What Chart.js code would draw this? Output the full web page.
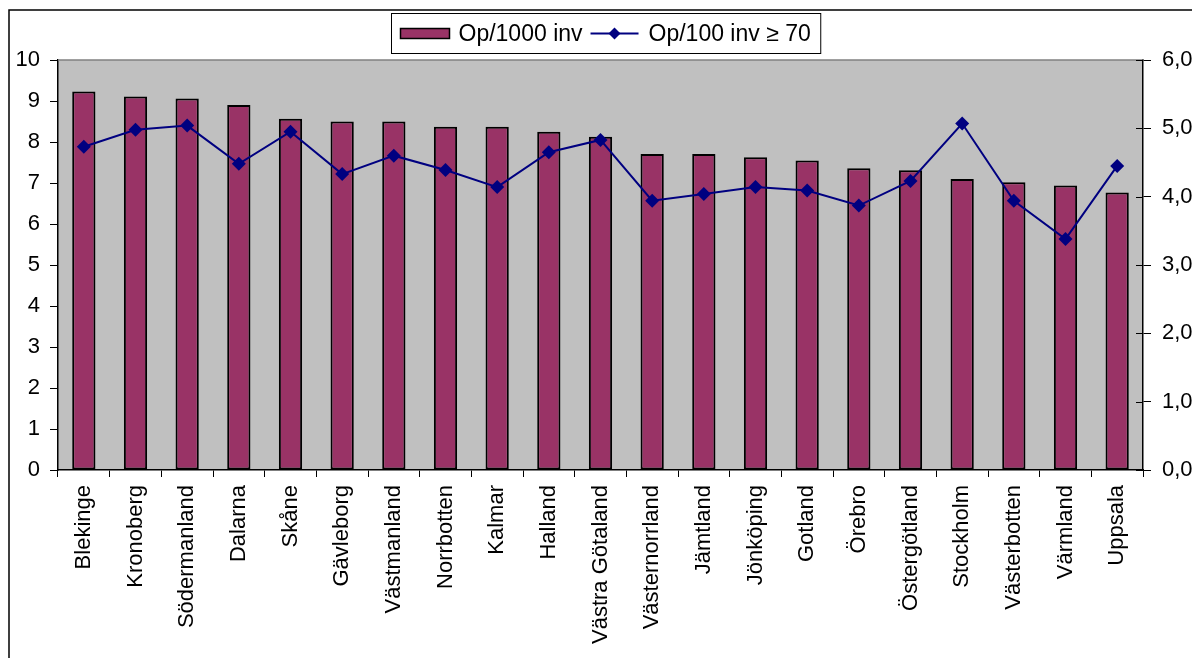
<!DOCTYPE html>
<html>
<head>
<meta charset="utf-8">
<script src="https://cdn.jsdelivr.net/npm/chart.js@4.4.0/dist/chart.umd.min.js"></script>
<style>
html,body{margin:0;padding:0;background:#fff;overflow:hidden;}
canvas{display:block;}
</style>
</head>
<body>
<canvas id="c" width="1192" height="658"></canvas>
<script>
const categories = ["Blekinge","Kronoberg","Södermanland","Dalarna","Skåne","Gävleborg","Västmanland","Norrbotten","Kalmar","Halland","Västra Götaland","Västernorrland","Jämtland","Jönköping","Gotland","Örebro","Östergötland","Stockholm","Västerbotten","Värmland","Uppsala"];
const opPer1000 = [9.23,9.11,9.06,8.90,8.57,8.50,8.50,8.37,8.37,8.25,8.13,7.71,7.71,7.63,7.55,7.36,7.31,7.10,7.02,6.94,6.77];
const opPer100Over70 = [4.73,4.98,5.04,4.48,4.95,4.33,4.60,4.39,4.14,4.65,4.83,3.94,4.04,4.14,4.09,3.87,4.23,5.07,3.94,3.38,4.45];
const seriesLabels = ["Op/1000 inv","Op/100 inv ≥ 70"];
const leftTicks = [0,1,2,3,4,5,6,7,8,9,10];
const rightTicks = [0,1,2,3,4,5,6];

const FONT = '"Liberation Sans", Arial, sans-serif';
Chart.defaults.font.family = FONT;
Chart.defaults.color = '#000';

const BAR_COLOR = '#993366';
const LINE_COLOR = '#000080';

const decor = {
  id: 'decor',
  beforeDraw(chart) {
    const {ctx, chartArea: a} = chart;
    ctx.save();
    ctx.fillStyle = '#C0C0C0';
    ctx.fillRect(a.left, a.top, a.right - a.left, a.bottom - a.top);
    ctx.restore();
  },
  afterDraw(chart) {
    const {ctx, chartArea: a} = chart;
    ctx.save();
    // outer frame
    ctx.strokeStyle = '#000';
    ctx.lineWidth = 1.5;
    ctx.beginPath();
    ctx.moveTo(9, 660); ctx.lineTo(9, 10); ctx.lineTo(1195, 10);
    ctx.stroke();
    // top border of plot
    ctx.strokeStyle = '#808080';
    ctx.lineWidth = 1.5;
    ctx.beginPath();
    ctx.moveTo(a.left, a.top); ctx.lineTo(a.right, a.top);
    ctx.stroke();
    // inward ticks on right axis
    const y1 = chart.scales.y1;
    ctx.strokeStyle = '#000';
    ctx.lineWidth = 1;
    y1.ticks.forEach(t => {
      const py = Math.round(y1.getPixelForValue(t.value)) + 0.5;
      ctx.beginPath(); ctx.moveTo(a.right - 7, py); ctx.lineTo(a.right, py); ctx.stroke();
    });
    // legend
    const fs = 23;
    ctx.font = fs + 'px ' + FONT;
    const ds = chart.data.datasets;
    const w1 = ctx.measureText(ds[0].label).width;
    const w2 = ctx.measureText(ds[1].label).width;
    const total = 9 + 49 + 9 + w1 + 8 + 48 + 10 + w2 + 10;
    const cx = 605.5;
    const left = Math.round(cx - total / 2) + 0.5;
    const top = 13.5, h = 40;
    ctx.fillStyle = '#fff';
    ctx.fillRect(left, top, total, h);
    ctx.strokeStyle = '#000';
    ctx.lineWidth = 1;
    ctx.strokeRect(left, top, total, h);
    const my = top + h / 2;
    let x = left + 9;
    ctx.fillStyle = ds[0].backgroundColor;
    ctx.fillRect(x, my - 5, 49, 10);
    ctx.strokeStyle = '#000';
    ctx.lineWidth = 1.5;
    ctx.strokeRect(x, my - 5, 49, 10);
    x += 49 + 9;
    ctx.fillStyle = '#000';
    ctx.textBaseline = 'middle';
    ctx.textAlign = 'left';
    ctx.fillText(ds[0].label, x, my + 1);
    x += w1 + 8;
    ctx.strokeStyle = LINE_COLOR;
    ctx.lineWidth = 1.8;
    ctx.beginPath(); ctx.moveTo(x, my); ctx.lineTo(x + 48, my); ctx.stroke();
    const dx = x + 24;
    ctx.fillStyle = LINE_COLOR;
    ctx.beginPath();
    ctx.moveTo(dx, my - 6); ctx.lineTo(dx + 6, my); ctx.lineTo(dx, my + 6); ctx.lineTo(dx - 6, my);
    ctx.closePath(); ctx.fill();
    x += 48 + 10;
    ctx.fillStyle = '#000';
    ctx.fillText(ds[1].label, x, my + 1);
    ctx.restore();
  }
};

new Chart(document.getElementById('c'), {
  type: 'bar',
  data: {
    labels: categories,
    datasets: [
      {
        type: 'bar',
        label: seriesLabels[0],
        data: opPer1000,
        backgroundColor: BAR_COLOR,
        borderColor: '#000',
        borderWidth: 2,
        borderSkipped: false,
        barPercentage: 0.45,
        categoryPercentage: 1.0,
        yAxisID: 'y',
        order: 2
      },
      {
        type: 'line',
        label: seriesLabels[1],
        data: opPer100Over70,
        borderColor: LINE_COLOR,
        backgroundColor: LINE_COLOR,
        borderWidth: 2,
        pointStyle: 'rectRot',
        pointRadius: 7,
        pointBorderWidth: 0,
        pointBackgroundColor: LINE_COLOR,
        tension: 0,
        yAxisID: 'y1',
        order: 1
      }
    ]
  },
  options: {
    responsive: false,
    animation: false,
    devicePixelRatio: 1,
    layout: { padding: { top: 60, left: 0, right: 0, bottom: 0 } },
    plugins: {
      legend: { display: false },
      tooltip: { enabled: false }
    },
    scales: {
      x: {
        offset: true,
        grid: { offset: true, drawOnChartArea: false, drawTicks: true, tickLength: 7, color: '#000', lineWidth: 1 },
        border: { color: '#000', width: 1.5 },
        ticks: { minRotation: 90, maxRotation: 90, autoSkip: false, padding: 8, font: { size: 22 }, color: '#000' },
        afterFit(s) { s.height = 188; }
      },
      y: {
        position: 'left',
        min: 0, max: 10,
        afterBuildTicks(s) { s.ticks = leftTicks.map(v => ({ value: v })); },
        grid: { drawOnChartArea: false, drawTicks: true, tickLength: 8, color: '#000' },
        border: { color: '#000', width: 1.5 },
        ticks: { padding: 10, font: { size: 22 }, color: '#000' },
        afterFit(s) { s.width = 58; }
      },
      y1: {
        position: 'right',
        min: 0, max: 6,
        afterBuildTicks(s) { s.ticks = rightTicks.map(v => ({ value: v })); },
        grid: { drawOnChartArea: false, drawTicks: true, tickLength: 8, color: '#000' },
        border: { color: '#000', width: 1.5 },
        ticks: { padding: 11, font: { size: 22 }, color: '#000', callback: v => v.toFixed(2).replace('.', ',') },
        afterFit(s) { s.width = 49; }
      }
    }
  },
  plugins: [decor]
});
</script>
</body>
</html>
